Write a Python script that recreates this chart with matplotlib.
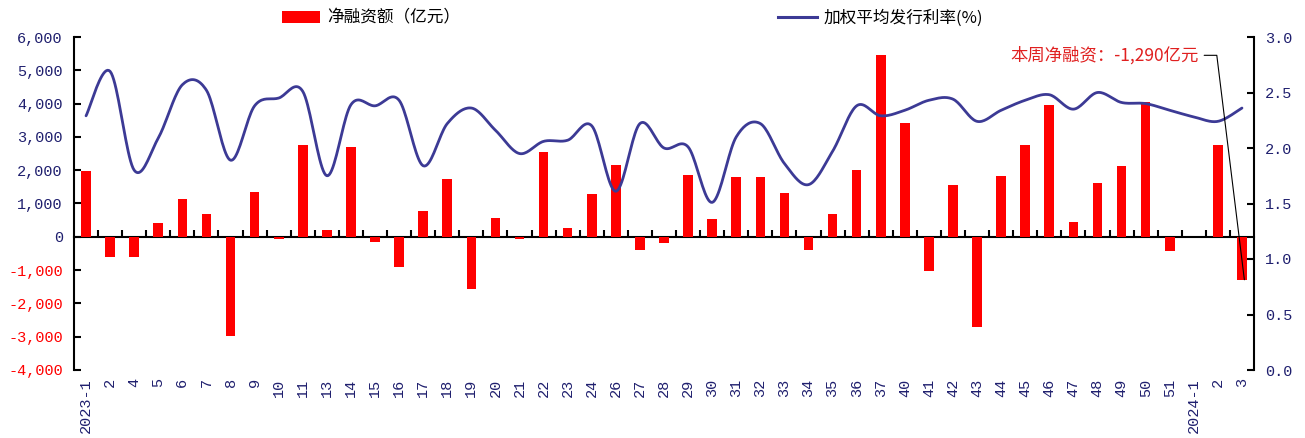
import matplotlib
matplotlib.use("Agg")
import matplotlib.pyplot as plt
from matplotlib.patches import Patch
from matplotlib.lines import Line2D
import numpy as np

weeks = ['2023-1', '2', '4', '5', '6', '7', '8', '9', '10', '11', '13', '14',
         '15', '16', '17', '18', '19', '20', '21', '22', '23', '24', '26', '27',
         '28', '29', '30', '31', '32', '33', '34', '35', '36', '37', '40', '41',
         '42', '43', '44', '45', '46', '47', '48', '49', '50', '51', '2024-1',
         '2', '3']

# net financing, 100m yuan
net_financing = [1970, -620, -620, 420, 1140, 680, -2970, 1350, -70, 2770,
                 200, 2690, -160, -920, 780, 1750, -1570, 550, -70, 2550,
                 270, 1280, 2150, -410, -190, 1860, 520, 1790, 1790, 1320,
                 -410, 670, 2000, 5450, 3410, -1020, 1570, -2720, 1830, 2770,
                 3970, 450, 1610, 2120, 4050, -420, 0, 2770, -1290]

# weighted average issuance rate, %
avg_rate = [2.29, 2.69, 1.80, 2.09, 2.57, 2.52, 1.89, 2.38, 2.45, 2.51,
            1.75, 2.39, 2.38, 2.43, 1.84, 2.22, 2.36, 2.16, 1.95, 2.06,
            2.07, 2.20, 1.61, 2.22, 2.00, 2.01, 1.51, 2.10, 2.22, 1.86,
            1.67, 1.97, 2.38, 2.29, 2.34, 2.43, 2.44, 2.24, 2.34, 2.43,
            2.48, 2.35, 2.50, 2.41, 2.40, 2.34, 2.28, 2.24, 2.36]

RED = '#FF0000'
NAVY = '#1F1F6E'
LINE = '#3C3A95'
NUM_FONT = 'Liberation Mono'
CJK = ['Noto Sans CJK SC', 'DejaVu Sans']


def catmull_rom(x, y, n=20):
    # smooth curve through every point, like a spreadsheet "smoothed line"
    x = np.asarray(x, float)
    y = np.asarray(y, float)
    px = np.concatenate([[x[0]], x, [x[-1]]])
    py = np.concatenate([[y[0]], y, [y[-1]]])
    t = np.linspace(0, 1, n, endpoint=False)
    xs, ys = [], []
    for i in range(1, len(px) - 2):
        for p, out in ((px, xs), (py, ys)):
            p0, p1, p2, p3 = p[i - 1], p[i], p[i + 1], p[i + 2]
            out.append(0.5 * (2 * p1 + (-p0 + p2) * t
                              + (2 * p0 - 5 * p1 + 4 * p2 - p3) * t ** 2
                              + (-p0 + 3 * p1 - 3 * p2 + p3) * t ** 3))
    xs.append([x[-1]])
    ys.append([y[-1]])
    return np.concatenate(xs), np.concatenate(ys)


fig = plt.figure(figsize=(13.05, 4.38), dpi=100)
ax = fig.add_axes([74 / 1305, 1 - 370 / 438, 1180 / 1305, 333 / 438])
x = np.arange(len(weeks))

ax.bar(x, net_financing, width=0.4, color=RED, zorder=2)
ax.set_xlim(-0.5, len(weeks) - 0.5)
ax.set_ylim(-4000, 6000)
ax.set_yticks(np.arange(-4000, 6001, 1000))
ax.set_yticklabels([f"{v:,}" for v in range(-4000, 6001, 1000)],
                   family=NUM_FONT, fontsize=11)
for lab, v in zip(ax.get_yticklabels(), range(-4000, 6001, 1000)):
    lab.set_color(RED if v < 0 else NAVY)
ax.tick_params(axis='y', direction='in', length=5, width=1.5, pad=8)

ax.set_xticks(x)
ax.set_xticklabels(weeks, rotation=90, family=NUM_FONT, fontsize=11,
                   color=NAVY)
ax.tick_params(axis='x', length=0, pad=6)

for side in ('top', 'right', 'bottom'):
    ax.spines[side].set_visible(False)
ax.spines['left'].set_linewidth(1.5)

# zero line with category separators
zero_axis = ax.secondary_xaxis(0.4)
zero_axis.set_xticks(np.arange(len(weeks) - 1) + 0.5)
zero_axis.set_xticklabels([])
zero_axis.tick_params(direction='in', length=5, width=1.5)
zero_axis.spines['bottom'].set_linewidth(1.5)

ax2 = ax.twinx()
sx, sy = catmull_rom(x, avg_rate)
ax2.plot(sx, sy, color=LINE, lw=2.0, solid_capstyle='round')
ax2.set_ylim(0, 3.0)
ax2.set_yticks(np.arange(0, 3.01, 0.5))
ax2.set_yticklabels([f"{v:.1f}" for v in np.arange(0, 3.01, 0.5)],
                    family=NUM_FONT, fontsize=11, color=NAVY)
ax2.tick_params(axis='y', direction='in', length=5, width=1.5, pad=8)
for side in ('top', 'left', 'bottom'):
    ax2.spines[side].set_visible(False)
ax2.spines['right'].set_linewidth(1.5)

last = len(weeks) - 1
ax2.annotate(f"本周净融资：{net_financing[last]:,}亿元",
             xy=(last + 0.1, net_financing[last]), xycoords=ax.transData,
             xytext=(46.2, 5450), textcoords=ax.transData,
             ha='right', va='center', color='#E02020', fontsize=12.5,
             family=CJK,
             arrowprops=dict(arrowstyle='-', color='black', lw=0.8,
                             shrinkA=2, shrinkB=0,
                             connectionstyle='angle,angleA=0,angleB=97,rad=0'))

handles = [Patch(facecolor=RED, edgecolor='none'),
           Line2D([], [], color=LINE, lw=2.2)]
fig.legend(handles, ['净融资额（亿元）', '加权平均发行利率(%)'],
           loc='center left', bbox_to_anchor=(282 / 1305, 1 - 18 / 438),
           ncol=2, frameon=False, borderpad=0, borderaxespad=0,
           handlelength=2.3, handletextpad=0.4, columnspacing=19.1,
           prop={'family': CJK, 'size': 12})

fig.savefig('out.png', dpi=100)
